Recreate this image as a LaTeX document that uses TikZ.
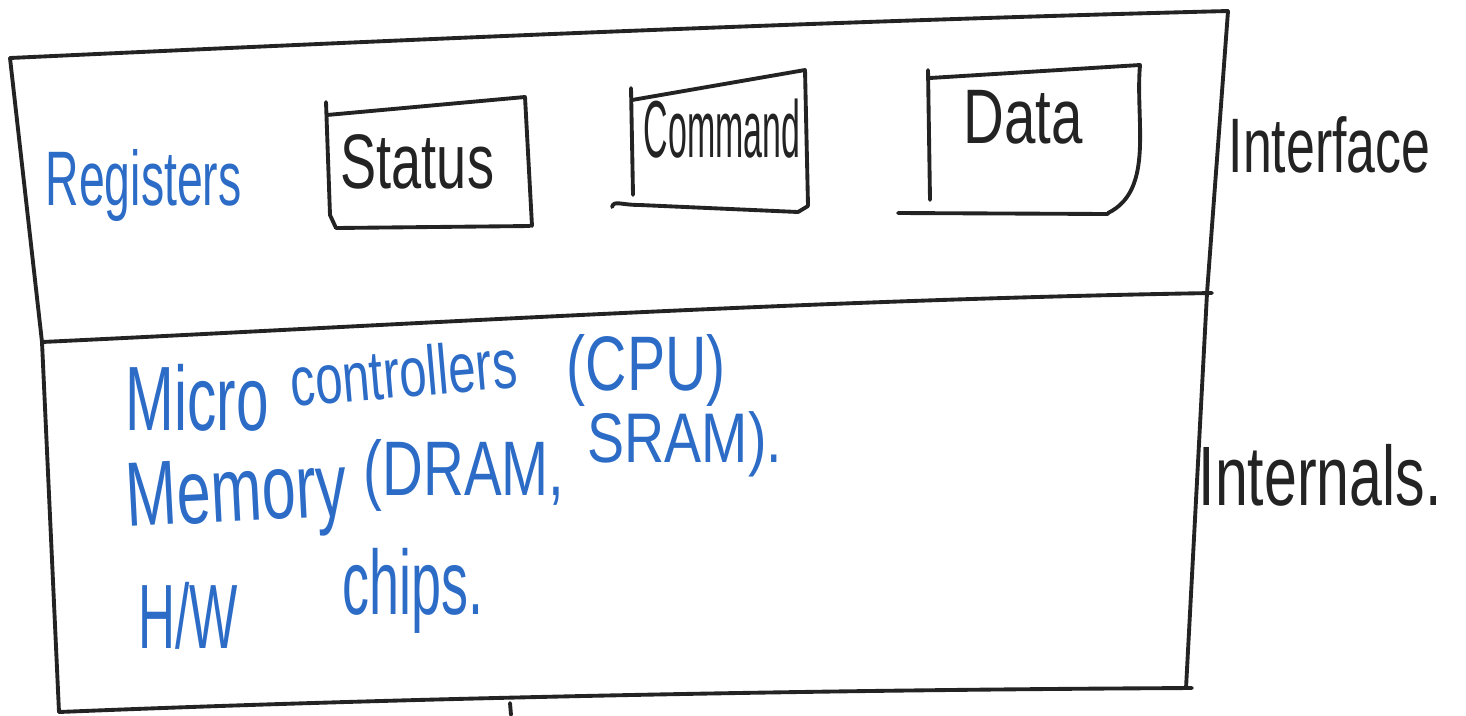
\documentclass[tikz,border=0pt]{standalone}
\usepackage{fontspec}
\setmainfont{Liberation Sans}
\usepackage{graphicx}
\definecolor{ink}{HTML}{232323}
\definecolor{pen}{HTML}{2C6CC6}
\tikzset{
  sketch/.style={draw=ink, line width=1.1pt, line cap=round, line join=round},
  bluelabel/.style={text=pen, anchor=base west, inner sep=0pt},
  blacklabel/.style={text=ink, anchor=base west, inner sep=0pt},
}
% size, horizontal squeeze, text
\newcommand\hand[3]{{\fontsize{#1}{#1}\selectfont\scalebox{#2}[1]{#3}}}
\begin{document}
\begin{tikzpicture}[x=0.1mm,y=-0.1mm]
\useasboundingbox (0,0) rectangle (1466,715);

% outer frame, upper part
\coordinate (tl) at (10,58);
\coordinate (tr) at (1228,11);
\coordinate (mr) at (1207,293);
\coordinate (ml) at (42,342);
\coordinate (bl) at (59,712);
\coordinate (br) at (1186,688);
\draw[sketch] (tl) .. controls (400,40) and (800,22) .. (tr);
\draw[sketch] (tr) -- (mr) -- (br);
\draw[sketch] (tl) -- (ml);
% divider between interface and internals
\draw[sketch] (ml) .. controls (400,325) and (800,300) .. (1212,293);
% lower part
\draw[sketch] (ml) -- (bl);
\draw[sketch] (bl) .. controls (400,698) and (800,690) .. (1192,688);
\draw[sketch] (510,703) -- (511,715);

% Status register
\draw[sketch] (326,102) -- (330,215) -- (336,228);
\draw[sketch] (327,115) -- (525,97) -- (532,226);
\draw[sketch] (336,228) -- (530,226);
% Command register
\draw[sketch] (631,88) -- (633,195);
\draw[sketch] (632,100) -- (805,70) -- (808,206);
\draw[sketch] (612,207) .. controls (614,200) and (620,205) .. (640,205) -- (798,212) -- (808,206);
% Data register
\draw[sketch] (928,70) -- (930,200);
\draw[sketch] (930,78) -- (1140,65) .. controls (1135,120) and (1155,190) .. (1108,213);
\draw[sketch] (898,213) -- (1108,214);

% register labels
\node[bluelabel]  (reg)  at (45,205)  {\hand{22}{0.6}{Registers}};
\node[blacklabel] (stat) at (340,188) {\hand{22}{0.7}{Status}};
\node[blacklabel] (cmd)  at (643,157) {\hand{23}{0.42}{Command}};
\node[blacklabel] (dat)  at (963,143) {\hand{22}{0.73}{Data}};

% side labels
\node[blacklabel] (intf) at (1228,172) {\hand{22}{0.67}{Interface}};
\node[blacklabel] (intn) at (1198,505) {\hand{24}{0.7}{Internals.}};

% internals contents, written word by word along a rising line
\node[bluelabel] (mc1) at (125,430) {\hand{26}{0.64}{Micro}};
\node[bluelabel, rotate=5] (mc2) at (292,407) {\hand{20}{0.70}{controllers}};
\node[bluelabel] (mc3) at (566,390) {\hand{22}{0.74}{(CPU)}};
\node[bluelabel, rotate=3] (me1) at (127,527) {\hand{26}{0.67}{Memory}};
\node[bluelabel] (me2) at (363,495) {\hand{22}{0.73}{(DRAM,}};
\node[bluelabel] (me3) at (587,462) {\hand{20}{0.79}{SRAM).}};
\node[bluelabel] (hw)  at (138,648) {\hand{26}{0.56}{H/W}};
\node[bluelabel] (chp) at (342,614) {\hand{26}{0.59}{chips.}};
\end{tikzpicture}
\end{document}
